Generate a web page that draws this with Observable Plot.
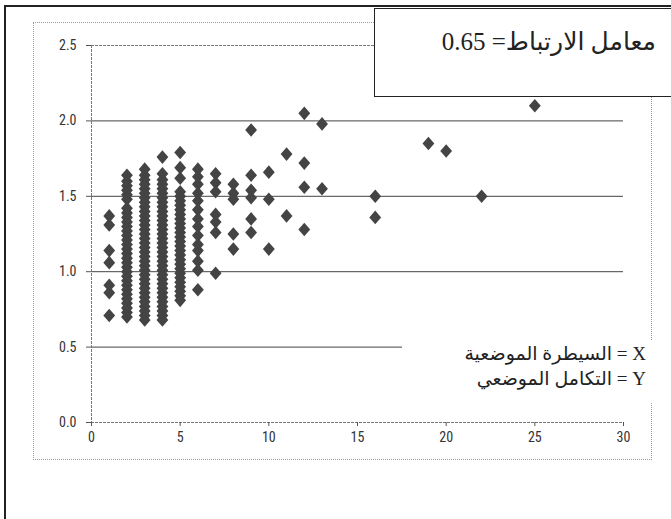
<!DOCTYPE html>
<html>
<head>
<meta charset="utf-8">
<script src="https://cdn.jsdelivr.net/npm/d3@7"></script>
<script src="https://cdn.jsdelivr.net/npm/@observablehq/plot@0.6"></script>
<style>
  html, body { margin: 0; padding: 0; background: #fff; }
  #wrap { position: relative; width: 671px; height: 519px; overflow: hidden; background: #fff; }
  #chart { position: absolute; left: 0; top: 0; }
  .outerL { position: absolute; left: 4px; top: 5px; width: 2px; height: 520px; background: #222; }
  .outerT { position: absolute; left: 4px; top: 5px; width: 680px; height: 2px; background: #222; }
  .inner { position: absolute; left: 33px; top: 22px; width: 619px; height: 438px; border: 1px dotted #999; box-sizing: border-box; }
  .corr { position: absolute; left: 374px; top: 8px; width: 310px; height: 89px; border: 1px solid #222; background: #fff; box-sizing: border-box; }
  .corr span { position: absolute; right: 27px; top: 18px; font-family: 'Liberation Serif', 'DejaVu Sans', serif; font-size: 25px; color: #222; direction: rtl; white-space: nowrap; }
  .legend { position: absolute; left: 402px; top: 340px; width: 256px; height: 62px; background: #fff; }
  .legend div { position: absolute; right: 12px; font-family: 'Liberation Serif', 'DejaVu Sans', serif; font-size: 19px; color: #222; direction: rtl; white-space: nowrap; }
</style>
</head>
<body>
<div id="wrap">
  <div class="inner"></div>
  <div id="chart"></div>
  <div class="legend">
    <div id="lx" style="top:2px"></div>
    <div id="ly" style="top:27px"></div>
  </div>
  <div class="corr"><span id="corrText"></span></div>
  <div class="outerL"></div>
  <div class="outerT"></div>
</div>
<script>
// ---- data ----
const xTicks = [0, 5, 10, 15, 20, 25, 30];
const yTicks = [0.0, 0.5, 1.0, 1.5, 2.0, 2.5];
const gridValues = [0.5, 1.0, 1.5, 2.0];

const col1 = [1.37, 1.31, 1.14, 1.06, 0.91, 0.86, 0.71];
const col2 = [0.70, 0.73, 0.76, 0.79, 0.82, 0.85, 0.88, 0.91, 0.94, 0.97, 1.00, 1.03, 1.06, 1.09, 1.12, 1.15, 1.18, 1.21, 1.24, 1.27, 1.30, 1.33, 1.36, 1.39, 1.42, 1.48, 1.51, 1.54, 1.57, 1.60, 1.64];
const col3 = [0.68, 0.71, 0.74, 0.77, 0.80, 0.83, 0.86, 0.89, 0.92, 0.95, 0.98, 1.01, 1.04, 1.07, 1.10, 1.13, 1.16, 1.19, 1.22, 1.25, 1.28, 1.31, 1.34, 1.37, 1.40, 1.43, 1.46, 1.49, 1.52, 1.55, 1.58, 1.61, 1.64, 1.68];
const col4 = [0.68, 0.71, 0.74, 0.77, 0.80, 0.83, 0.86, 0.89, 0.92, 0.95, 0.98, 1.01, 1.04, 1.07, 1.10, 1.13, 1.16, 1.19, 1.22, 1.25, 1.28, 1.31, 1.34, 1.37, 1.40, 1.43, 1.46, 1.49, 1.52, 1.55, 1.58, 1.61, 1.65, 1.76];
const col5 = [0.81, 0.84, 0.87, 0.90, 0.93, 0.96, 0.99, 1.02, 1.05, 1.08, 1.11, 1.14, 1.17, 1.20, 1.23, 1.26, 1.29, 1.32, 1.35, 1.38, 1.41, 1.44, 1.47, 1.50, 1.53, 1.62, 1.69, 1.79];
const col6 = [1.68, 1.63, 1.58, 1.52, 1.47, 1.41, 1.35, 1.30, 1.24, 1.18, 1.14, 1.07, 1.01, 0.88];
const col7 = [1.65, 1.59, 1.53, 1.38, 1.33, 1.26, 0.99];
const col8 = [1.58, 1.52, 1.48, 1.25, 1.15];
const col9 = [1.94, 1.64, 1.54, 1.49, 1.35, 1.26];
const col10 = [1.66, 1.48, 1.15];
const col11 = [1.78, 1.37];
const col12 = [2.05, 1.72, 1.56, 1.28];
const col13 = [1.98, 1.55];
const col16 = [1.50, 1.36];
const col19 = [1.85];
const col20 = [1.80];
const col22 = [1.50];
const col25 = [2.10];

const xValues = [1, 2, 3, 4, 5, 6, 7, 8, 9, 10, 11, 12, 13, 16, 19, 20, 22, 25];
const yColumns = [col1, col2, col3, col4, col5, col6, col7, col8, col9, col10, col11, col12, col13, col16, col19, col20, col22, col25];

const corrLabel = "معامل الارتباط= 0.65";
const legendX = "X = السيطرة الموضعية";
const legendY = "Y = التكامل الموضعي";

// ---- build table ----
const points = xValues.flatMap((x, i) => yColumns[i].map(y => ({x, y})));

// diamond slightly taller than wide, like the spreadsheet marker
const excelDiamond = {
  draw(context) {
    const h = 6.8, w = 5.9;
    context.moveTo(0, -h);
    context.lineTo(w, 0);
    context.lineTo(0, h);
    context.lineTo(-w, 0);
    context.closePath();
  }
};

const chart = Plot.plot({
  width: 671,
  height: 519,
  marginLeft: 91,
  marginRight: 48,
  marginTop: 45,
  marginBottom: 97,
  style: {
    fontFamily: "'Liberation Sans Narrow', 'Roboto Condensed', 'DejaVu Sans Condensed', sans-serif",
    fontSize: "14px",
    color: "#333",
    background: "transparent"
  },
  x: {domain: [0, 30], ticks: xTicks, label: null},
  y: {domain: [0, 2.5], ticks: yTicks, label: null},
  marks: [
    Plot.ruleY(gridValues, {stroke: "#444", strokeWidth: 1}),
    Plot.ruleY([2.5], {stroke: "#777", strokeDasharray: "3,1"}),
    Plot.ruleY([0], {stroke: "#777", strokeDasharray: "3,1"}),
    Plot.ruleX([0], {stroke: "#777", strokeDasharray: "3,1"}),
    Plot.axisY({ticks: yTicks, tickFormat: d3.format(".1f"), tickSize: 5, tickPadding: 10, stroke: "#555", fill: "#333", fontSize: 14, label: null}),
    Plot.axisX({ticks: xTicks, tickFormat: d => String(d), tickSize: 4, tickPadding: 6, stroke: "#555", fill: "#333", fontSize: 14, label: null}),
    Plot.dot(points, {x: "x", y: "y", symbol: excelDiamond, r: 5, fill: "#444", stroke: "none"})
  ]
});
document.getElementById("chart").appendChild(chart);
document.getElementById("corrText").textContent = corrLabel;
document.getElementById("lx").textContent = legendX;
document.getElementById("ly").textContent = legendY;
</script>
</body>
</html>
